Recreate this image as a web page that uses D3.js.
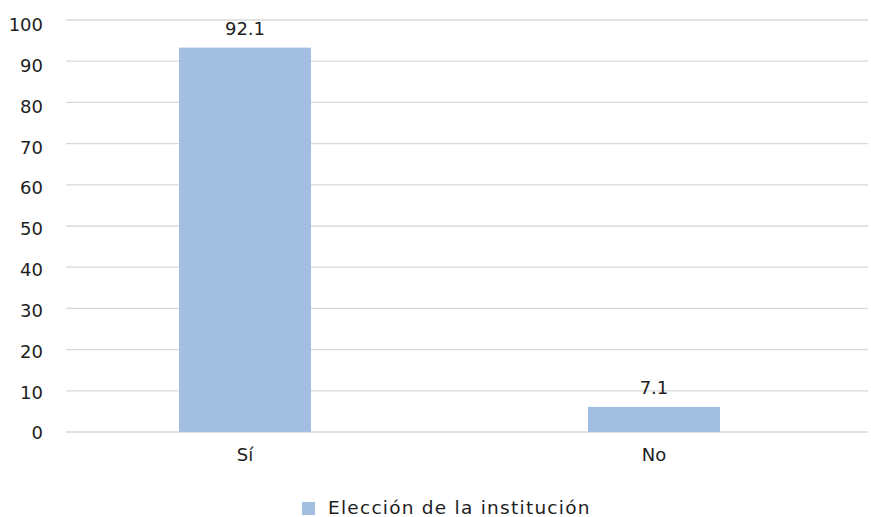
<!DOCTYPE html>
<html><head><meta charset="utf-8">
<script src="https://cdn.jsdelivr.net/npm/d3@7"></script>
<style>body{margin:0;background:#fff}svg{display:block}text{font-family:"DejaVu Sans",sans-serif;fill:#1e1e1e}</style>
</head><body><svg id="c" width="871" height="517"></svg>
<script>
const categories = ["Sí", "No"];
const barValues = [93.3, 6.1];
const labelTexts = ["92.1", "7.1"];
const yTicks = [0,10,20,30,40,50,60,70,80,90,100];
const seriesName = "Elección de la institución";

const svg = d3.select("#c");
const y = d3.scaleLinear().domain([0,100]).range([432,20]);
const yLab = d3.scaleLinear().domain([0,100]).range([433,24.5]);
const x = d3.scalePoint().domain(categories).range([40.5,858.5]).padding(0.5);
const barW = 132;
const color = "#a2bfe2";
const fs = 18;

svg.append("g").selectAll("line").data(yTicks).join("line")
  .attr("x1",66).attr("x2",868)
  .attr("y1",d=>y(d)).attr("y2",d=>y(d))
  .attr("stroke","#d9d9d9").attr("stroke-width",1.3);

svg.append("g").selectAll("text").data(yTicks).join("text")
  .attr("x",43).attr("y",d=>yLab(d)).attr("dy","0.36em")
  .attr("text-anchor","end").attr("font-size",fs).text(d=>d);

svg.append("g").selectAll("rect").data(categories).join("rect")
  .attr("x",d=>x(d)-barW/2).attr("width",barW)
  .attr("y",(d,i)=>y(barValues[i])).attr("height",(d,i)=>y(0)-y(barValues[i]))
  .attr("fill",color);

svg.append("g").selectAll("text").data(categories).join("text")
  .attr("x",d=>x(d)).attr("y",(d,i)=>y(barValues[i])-12.5)
  .attr("text-anchor","middle").attr("font-size",fs).text((d,i)=>labelTexts[i]);

svg.append("g").selectAll("text").data(categories).join("text")
  .attr("x",d=>x(d)).attr("y",461)
  .attr("text-anchor","middle").attr("font-size",fs).text(d=>d);

const lg = svg.append("g");
lg.append("rect").attr("x",302).attr("y",502).attr("width",13).attr("height",13).attr("fill",color);
lg.append("text").attr("x",328).attr("y",514).attr("font-size",18.5).attr("letter-spacing",1.25).text(seriesName);
</script></body></html>
